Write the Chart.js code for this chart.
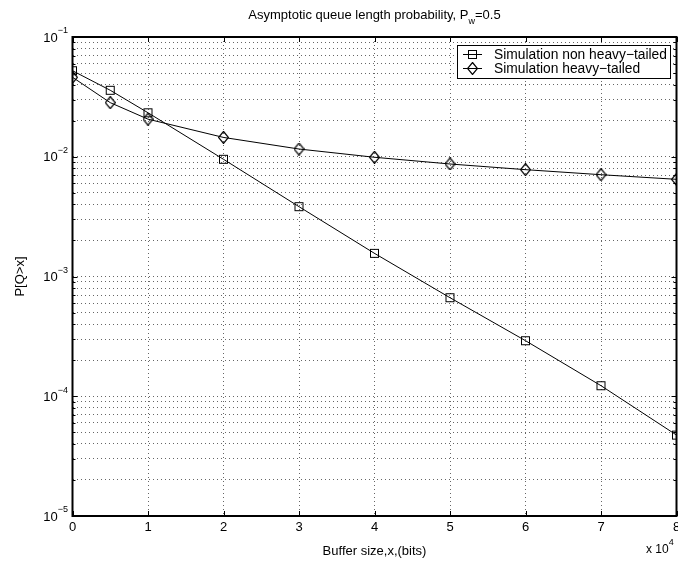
<!DOCTYPE html>
<html>
<head>
<meta charset="utf-8">
<script src="https://cdn.jsdelivr.net/npm/chart.js@4/dist/chart.umd.min.js"></script>
<style>
  body { margin: 0; background: #fff; }
  #wrap { width: 678px; height: 567px; }
</style>
</head>
<body>
<div id="wrap"><canvas id="queue-chart" width="678" height="567"></canvas></div>
<script>
// buffer size in units of 10^4 bits
var bufferSize = [0, 0.5, 1, 2, 3, 4, 5, 6, 7, 8];
var nonHeavy = [0.0523, 0.0359, 0.0233, 0.00952, 0.00383, 0.00156, 0.000665, 0.000291, 0.0001225, 0.0000474];
var heavy = [0.0461, 0.0283, 0.0206, 0.0145, 0.0116, 0.0099, 0.0087, 0.0078, 0.00708, 0.00648];
var seriesLabels = ["Simulation non heavy\u2212tailed", "Simulation heavy\u2212tailed"];
var xTicks = [0, 1, 2, 3, 4, 5, 6, 7, 8];
var yDecades = [-5, -4, -3, -2, -1];

var FONT = "'Liberation Sans', Arial, Helvetica, sans-serif";

function markerSquare() {
    var c = document.createElement("canvas");
    c.width = 11; c.height = 11;
    var g = c.getContext("2d");
    g.strokeStyle = "#000";
    g.lineWidth = 1;
    g.strokeRect(1.5, 1.5, 8, 8);
    return c;
}

function markerDiamond() {
    var c = document.createElement("canvas");
    c.width = 11; c.height = 13;
    var g = c.getContext("2d");
    g.strokeStyle = "#000";
    g.lineWidth = 1.2;
    g.beginPath();
    g.moveTo(5.5, 0.5);
    g.lineTo(10.5, 6.5);
    g.lineTo(5.5, 12.5);
    g.lineTo(0.5, 6.5);
    g.closePath();
    g.stroke();
    return c;
}

var sq = markerSquare();
var dia = markerDiamond();

function toPoints(ys) {
    return bufferSize.map(function (x, i) { return {x: x, y: ys[i]}; });
}

// all grid values 1..9 x 10^n
function logTicks() {
    var t = [];
    yDecades.forEach(function (e, k) {
        var n = (k == yDecades.length - 1) ? 1 : 9;
        for (var m = 1; m <= n; m++) {
            t.push({value: m * Math.pow(10, e), major: m == 1});
        }
    });
    return t;
}

function supText(ctx, base, sup, x, y, size, supSize, align) {
    // draws base + superscript, x is left or right edge depending on align
    ctx.font = size + "px " + FONT;
    var wb = ctx.measureText(base).width;
    ctx.font = supSize + "px " + FONT;
    var ws = ctx.measureText(sup).width;
    var left = align == "right" ? x - wb - ws : x;
    ctx.textAlign = "left";
    ctx.textBaseline = "middle";
    ctx.font = size + "px " + FONT;
    ctx.fillText(base, left, y);
    ctx.font = supSize + "px " + FONT;
    ctx.fillText(sup, left + wb, y - 7);
}

var decorPlugin = {
    id: "decor",
    afterDraw: function (chart) {
        var ctx = chart.ctx;
        var a = chart.chartArea;
        var xs = chart.scales.x, ys = chart.scales.y;
        ctx.save();
        ctx.fillStyle = "#000";
        ctx.strokeStyle = "#000";

        // inward tick marks
        ctx.lineWidth = 1;
        ctx.beginPath();
        xTicks.forEach(function (v) {
            var px = Math.round(xs.getPixelForValue(v)) + 0.5;
            ctx.moveTo(px, a.bottom); ctx.lineTo(px, a.bottom - 5);
            ctx.moveTo(px, a.top); ctx.lineTo(px, a.top + 5);
        });
        logTicks().forEach(function (t) {
            var py = Math.round(ys.getPixelForValue(t.value)) + 0.5;
            var len = t.major ? 5 : 3;
            ctx.moveTo(a.left, py); ctx.lineTo(a.left + len, py);
            ctx.moveTo(a.right, py); ctx.lineTo(a.right - len, py);
        });
        ctx.stroke();

        // axes box
        ctx.lineWidth = 2;
        ctx.strokeRect(a.left, a.top, a.right - a.left, a.bottom - a.top);

        // y labels 10^n
        yDecades.forEach(function (e) {
            var py = ys.getPixelForValue(Math.pow(10, e)) + 1;
            supText(ctx, "10", "\u2212" + Math.abs(e), 68, py, 13, 9, "right");
        });

        // title with subscript
        var t1 = "Asymptotic queue length probability, P", sub = "w", t2 = "=0.5";
        ctx.font = "13px " + FONT;
        var w1 = ctx.measureText(t1).width, w2 = ctx.measureText(t2).width;
        ctx.font = "9px " + FONT;
        var ws = ctx.measureText(sub).width;
        var left = (a.left + a.right) / 2 - (w1 + ws + w2) / 2;
        ctx.textAlign = "left";
        ctx.textBaseline = "alphabetic";
        ctx.font = "13px " + FONT;
        ctx.fillText(t1, left, 19);
        ctx.font = "9px " + FONT;
        ctx.fillText(sub, left + w1, 24);
        ctx.font = "13px " + FONT;
        ctx.fillText(t2, left + w1 + ws, 19);

        // axis titles
        ctx.textAlign = "center";
        ctx.textBaseline = "middle";
        ctx.fillText("Buffer size,x,(bits)", (a.left + a.right) / 2, 551);
        ctx.save();
        ctx.translate(20, (a.top + a.bottom) / 2);
        ctx.rotate(-Math.PI / 2);
        ctx.fillText("P[Q>x]", 0, 0);
        ctx.restore();

        // x multiplier
        supText(ctx, "x 10", "4", 646, 550, 12, 9, "left");

        // legend
        var bx = 457, by = 45, bw = 213, bh = 33;
        ctx.fillStyle = "#fff";
        ctx.fillRect(bx, by, bw, bh);
        ctx.lineWidth = 1;
        ctx.strokeStyle = "#000";
        ctx.strokeRect(bx + 0.5, by + 0.5, bw, bh);
        ctx.fillStyle = "#000";
        ctx.font = "13.8px " + FONT;
        ctx.textAlign = "left";
        ctx.textBaseline = "middle";
        var marks = [sq, dia];
        [54.5, 68.5].forEach(function (ly, i) {
            ctx.beginPath();
            ctx.moveTo(463, ly); ctx.lineTo(482, ly);
            ctx.stroke();
            var m = marks[i];
            ctx.drawImage(m, 472.5 - m.width / 2, ly - m.height / 2);
            ctx.fillText(chart.data.datasets[i].label, 494, ly + 1);
        });
        ctx.restore();
    }
};

var chart = new Chart(document.getElementById("queue-chart"), {
    type: "line",
    data: {
        datasets: [
            {
                label: seriesLabels[0],
                data: toPoints(nonHeavy),
                borderColor: "#000",
                borderWidth: 1,
                pointStyle: sq,
                pointRadius: 5,
                fill: false
            },
            {
                label: seriesLabels[1],
                data: toPoints(heavy),
                borderColor: "#000",
                borderWidth: 1,
                pointStyle: dia,
                pointRadius: 5,
                fill: false
            }
        ]
    },
    options: {
        responsive: false,
        animation: false,
        layout: {autoPadding: false, padding: {top: 37, right: 1.5, left: 0, bottom: 0}},
        plugins: {legend: {display: false}, title: {display: false}, tooltip: {enabled: false}},
        scales: {
            x: {
                type: "linear",
                min: 0,
                max: 8,
                afterBuildTicks: function (scale) {
                    scale.ticks = xTicks.map(function (v) { return {value: v}; });
                },
                afterFit: function (scale) {
                    scale.height = 51;
                    scale.paddingLeft = 0;
                    scale.paddingRight = 0;
                },
                grid: {color: "rgba(0,0,0,0.6)", lineWidth: 1, drawTicks: false},
                border: {display: false, dash: [1, 3]},
                ticks: {
                    color: "#000",
                    padding: 4,
                    maxRotation: 0,
                    font: {family: FONT, size: 13}
                }
            },
            y: {
                type: "logarithmic",
                min: 1e-5,
                max: 1e-1,
                afterBuildTicks: function (scale) {
                    scale.ticks = logTicks();
                },
                afterFit: function (scale) {
                    scale.width = 72.5;
                    scale.paddingTop = 0;
                    scale.paddingBottom = 0;
                },
                grid: {color: "rgba(0,0,0,0.6)", lineWidth: 1, drawTicks: false},
                border: {display: false, dash: [1, 3]},
                ticks: {display: false}
            }
        }
    },
    plugins: [decorPlugin]
});
</script>
</body>
</html>
